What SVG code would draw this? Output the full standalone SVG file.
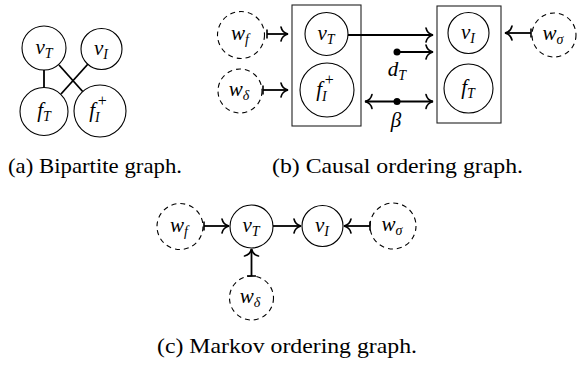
<svg xmlns="http://www.w3.org/2000/svg" width="577" height="365" viewBox="0 0 577 365">
<style>
.n{fill:#fff;stroke:#000;stroke-width:1.1}
.d{fill:#fff;stroke:#000;stroke-width:1.1;stroke-dasharray:5 4}
.box{fill:none;stroke:#222;stroke-width:1.1}
.e{stroke:#000;stroke-width:1.8;fill:none}
.m{font-family:'Liberation Serif','DejaVu Serif',serif;font-style:italic;font-size:21px;text-anchor:middle;fill:#000}
.s{font-size:14px}
.p{font-size:16px;font-style:normal}
.cap{font-family:'Liberation Serif','Times New Roman',Times,serif;font-size:21px;fill:#000}
</style>
<defs>
<marker id="to" markerUnits="userSpaceOnUse" viewBox="-9 -8 11 16" refX="0" refY="0" markerWidth="11" markerHeight="16" orient="auto-start-reverse" overflow="visible">
<path d="M-7,-7 C-6,-2.4 -2.4,-0.6 0,0 C-2.4,0.6 -6,2.4 -7,7" fill="none" stroke="#000" stroke-width="1.6" stroke-linecap="round"/>
</marker>
<marker id="bar" markerUnits="userSpaceOnUse" viewBox="-2 -6 4 12" refX="0" refY="0" markerWidth="4" markerHeight="12" orient="auto" overflow="visible">
<path d="M0,-4.5 L0,4.5" stroke="#000" stroke-width="1.6"/>
</marker>
</defs>

<!-- (a) Bipartite graph -->
<g id="a-edges">
<line class="e" x1="44" y1="70" x2="44" y2="88"/>
<line class="e" x1="59" y1="65" x2="84" y2="93"/>
<line class="e" x1="88" y1="64" x2="61" y2="94"/>
</g>
<g id="a-vT"><circle class="n" cx="44" cy="48" r="22"/><text class="m" x="44" y="54">v<tspan class="s" dy="4">T</tspan></text></g>
<g id="a-vI"><circle class="n" cx="101.5" cy="49" r="20.5"/><text class="m" x="101" y="55">v<tspan class="s" dy="4">I</tspan></text></g>
<g id="a-fT"><circle class="n" cx="44" cy="111.5" r="24"/><text class="m" x="44" y="117">f<tspan class="s" dy="4">T</tspan></text></g>
<g id="a-fI"><circle class="n" cx="100" cy="111" r="26"/><text class="m" x="98" y="117">f<tspan class="s" dy="5">I</tspan><tspan class="p" dx="-2" dy="-16">+</tspan></text></g>

<!-- (b) Causal ordering graph -->
<g id="b-box1"><rect class="box" x="292" y="5" width="69" height="121"/></g>
<g id="b-box2"><rect class="box" x="437" y="6" width="64" height="117"/></g>
<g id="b-vT"><circle class="n" cx="326.5" cy="34" r="21.5"/><text class="m" x="326" y="40">v<tspan class="s" dy="4">T</tspan></text></g>
<g id="b-fI"><circle class="n" cx="327" cy="90" r="27"/><text class="m" x="325" y="96">f<tspan class="s" dy="5">I</tspan><tspan class="p" dx="-2" dy="-16">+</tspan></text></g>
<g id="b-vI"><circle class="n" cx="468.5" cy="33" r="20.5"/><text class="m" x="468" y="39">v<tspan class="s" dy="4">I</tspan></text></g>
<g id="b-fT"><circle class="n" cx="468.5" cy="88.5" r="24.5"/><text class="m" x="468" y="94">f<tspan class="s" dy="4">T</tspan></text></g>
<g id="b-wf"><circle class="d" cx="241" cy="35" r="23.5"/><text class="m" x="240" y="40">w<tspan class="s" dy="4">f</tspan></text></g>
<g id="b-wd"><circle class="d" cx="240" cy="91" r="22"/><text class="m" x="239" y="96">w<tspan class="s" dy="4">δ</tspan></text></g>
<g id="b-ws"><circle class="d" cx="554" cy="35" r="22"/><text class="m" x="553" y="40">w<tspan class="s" dy="4">σ</tspan></text></g>
<g id="b-dT"><circle cx="397" cy="52" r="3.5" fill="#000"/><text class="m" x="397" y="76">d<tspan class="s" dy="4">T</tspan></text></g>
<g id="b-beta"><circle cx="397" cy="101.5" r="3.5" fill="#000"/><text class="m" x="396" y="127">β</text></g>
<g id="b-edges">
<line class="e" x1="267" y1="34" x2="288" y2="34" marker-start="url(#bar)" marker-end="url(#to)"/>
<line class="e" x1="263" y1="90" x2="288" y2="90" marker-start="url(#bar)" marker-end="url(#to)"/>
<line class="e" x1="531" y1="33" x2="505" y2="33" marker-start="url(#bar)" marker-end="url(#to)"/>
<line class="e" x1="348" y1="35" x2="433" y2="35" marker-end="url(#to)"/>
<line class="e" x1="397" y1="52" x2="433" y2="52" marker-end="url(#to)"/>
<line class="e" x1="365" y1="101.5" x2="433" y2="101.5" marker-start="url(#to)" marker-end="url(#to)"/>
</g>

<!-- (c) Markov ordering graph -->
<g id="c-wf"><circle class="d" cx="180" cy="226.5" r="23"/><text class="m" x="179" y="232">w<tspan class="s" dy="4">f</tspan></text></g>
<g id="c-vT"><circle class="n" cx="251.5" cy="226.5" r="21.5"/><text class="m" x="251" y="232">v<tspan class="s" dy="4">T</tspan></text></g>
<g id="c-vI"><circle class="n" cx="322.5" cy="226" r="20.5"/><text class="m" x="322" y="232">v<tspan class="s" dy="4">I</tspan></text></g>
<g id="c-ws"><circle class="d" cx="393" cy="226" r="23"/><text class="m" x="392" y="231">w<tspan class="s" dy="4">σ</tspan></text></g>
<g id="c-wd"><circle class="d" cx="251.5" cy="298" r="22"/><text class="m" x="250" y="303">w<tspan class="s" dy="4">δ</tspan></text></g>
<g id="c-edges">
<line class="e" x1="204" y1="226" x2="229" y2="226" marker-start="url(#bar)" marker-end="url(#to)"/>
<line class="e" x1="273" y1="226" x2="301" y2="226" marker-end="url(#to)"/>
<line class="e" x1="370" y1="226" x2="344" y2="226" marker-start="url(#bar)" marker-end="url(#to)"/>
<line class="e" x1="251.5" y1="276" x2="251.5" y2="249" marker-start="url(#bar)" marker-end="url(#to)"/>
</g>

<g id="captions">
<text class="cap" x="8" y="173" textLength="174" lengthAdjust="spacingAndGlyphs">(a) Bipartite graph.</text>
<text class="cap" x="272" y="173" textLength="251" lengthAdjust="spacingAndGlyphs">(b) Causal ordering graph.</text>
<text class="cap" x="157" y="353" textLength="260" lengthAdjust="spacingAndGlyphs">(c) Markov ordering graph.</text>
</g>
</svg>
